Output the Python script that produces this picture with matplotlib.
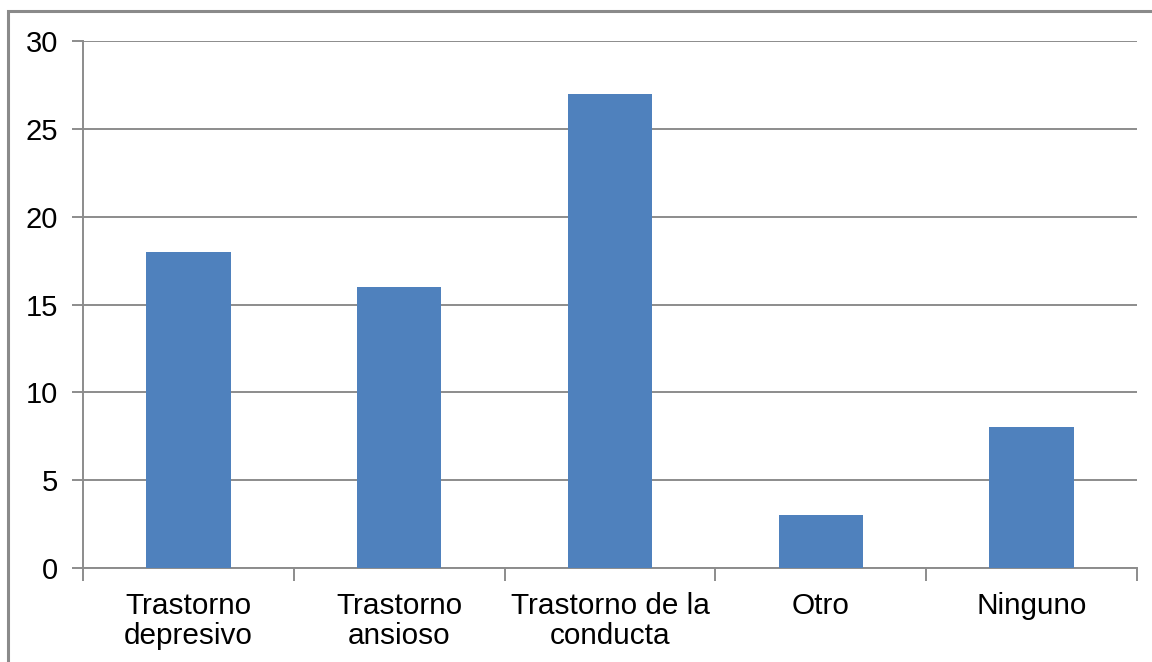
import matplotlib
matplotlib.use("Agg")
import matplotlib.pyplot as plt
from matplotlib.patches import Rectangle

categories = ["Trastorno\ndepresivo", "Trastorno\nansioso", "Trastorno de la\nconducta", "Otro", "Ninguno"]
values = [18, 16, 27, 3, 8]
yticks = [0, 5, 10, 15, 20, 25, 30]

W, H = 1152, 662
fig = plt.figure(figsize=(W / 100, H / 100), dpi=100)
plt.rcParams['font.family'] = ['Liberation Sans', 'DejaVu Sans']

# axes placement in pixel coordinates
left, right, top, bottom = 83, 1137, 41, 568
ax = fig.add_axes([left / W, 1 - bottom / H, (right - left) / W, (bottom - top) / H])

grid_color = "#8c8c8c"
bar_color = "#4f81bd"

x = list(range(len(categories)))
ax.bar(x, values, width=0.4, color=bar_color, zorder=3)

ax.set_xlim(-0.5, len(categories) - 0.5)
ax.set_ylim(0, 30)
ax.set_yticks(yticks)
ax.set_yticklabels([str(v) for v in yticks], fontsize=21)
ax.yaxis.grid(True, color=grid_color, linewidth=1.4, zorder=0)
ax.set_axisbelow(True)

# category labels centred under bars, tick marks between categories
ax.set_xticks(x)
ax.set_xticklabels(categories, fontsize=21.4, linespacing=1.1)
ax.tick_params(axis='x', length=0, pad=17)
ax.set_xticks([i - 0.5 for i in range(len(categories) + 1)], minor=True)
ax.tick_params(axis='x', which='minor', length=9, width=1.4, color=grid_color, direction='out')
ax.tick_params(axis='y', length=8, width=1.4, color=grid_color, direction='out', pad=10)

for side in ("top", "right"):
    ax.spines[side].set_visible(False)
for side in ("left", "bottom"):
    ax.spines[side].set_color(grid_color)
    ax.spines[side].set_linewidth(1.4)

# outer chart frame
frame = Rectangle((8 / W, -0.1), 1.2, 1 - 11 / H + 0.1, transform=fig.transFigure,
                  fill=False, edgecolor="#8a8a8a", linewidth=2.2, clip_on=False)
fig.add_artist(frame)

fig.savefig("out.png", dpi=100, facecolor="white")
